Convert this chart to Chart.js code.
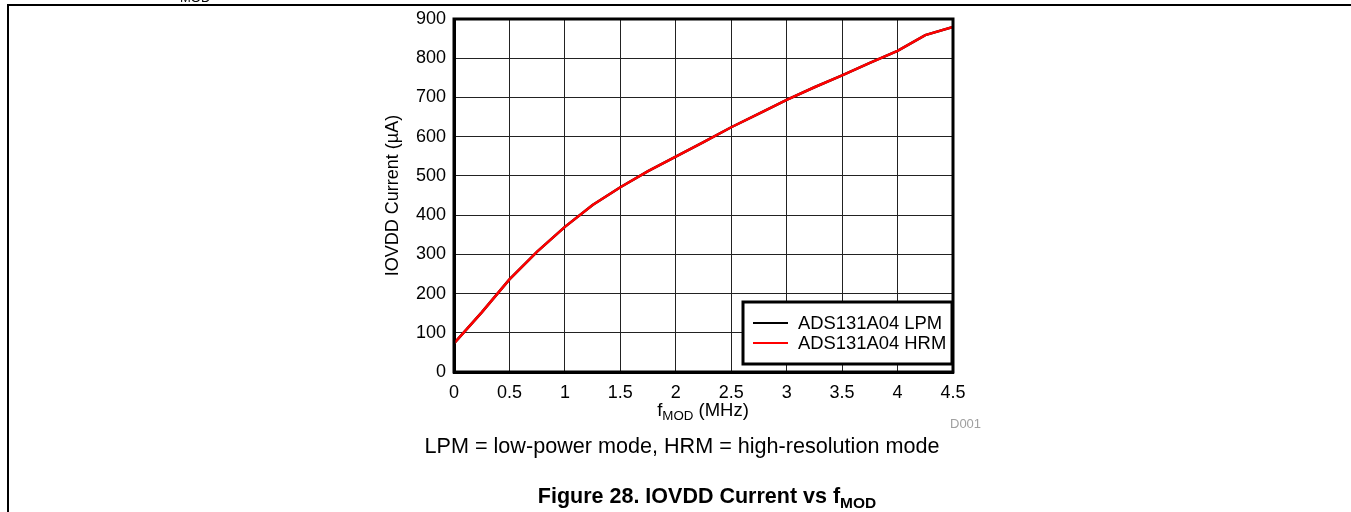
<!DOCTYPE html>
<html>
<head>
<meta charset="utf-8">
<script src="https://cdn.jsdelivr.net/npm/chart.js@4.4.1/dist/chart.umd.min.js"></script>
<style>
    body { margin: 0; background: #fff; font-family: "Liberation Sans", Arial, sans-serif; }
    #page { position: relative; width: 1351px; height: 512px; overflow: hidden; }
    #chart { position: absolute; left: 0; top: 0; }
    .frame-top { position: absolute; left: 8px; top: 4px; width: 1343px; height: 2px; background: #000; }
    .frame-left { position: absolute; left: 7px; top: 4px; width: 2px; height: 508px; background: #000; }
    .txt { position: absolute; white-space: nowrap; color: #000; }
    .txt sub { font-size: 0.72em; vertical-align: -0.3em; line-height: 0; }
    #prevSub { left: 180px; top: -10px; font-size: 13px; }
    #xTitle { left: 703px; top: 399px; font-size: 18.5px; transform: translateX(-50%); }
    #code { left: 950px; top: 416px; font-size: 13px; color: #a0a0a0; }
    #note { left: 682px; top: 433px; font-size: 21.6px; transform: translateX(-50%); }
    #caption { left: 707px; top: 484px; font-size: 21.5px; font-weight: bold; transform: translateX(-50%); }
</style>
</head>
<body>
<div id="page">
    <canvas id="chart" width="1351" height="512"></canvas>
    <div class="frame-top"></div>
    <div class="frame-left"></div>
    <div class="txt" id="prevSub">MOD</div>
    <div class="txt" id="xTitle">f<sub>MOD</sub> (MHz)</div>
    <div class="txt" id="code">D001</div>
    <div class="txt" id="note">LPM = low-power mode, HRM = high-resolution mode</div>
    <div class="txt" id="caption">Figure 28. IOVDD Current vs f<sub>MOD</sub></div>
</div>
<script>
// values (fMOD in MHz, current in uA)
const fmod = [0, 0.25, 0.5, 0.75, 1, 1.25, 1.5, 1.75, 2, 2.25, 2.5, 2.75, 3, 3.25, 3.5, 3.75, 4, 4.25, 4.5];
const lpmCurrent = [73, 152, 236, 307, 370, 426, 471, 512, 549, 586, 624, 659, 694, 726, 756, 788, 819, 859, 880];
const hrmCurrent = [73, 152, 236, 307, 370, 426, 471, 512, 549, 586, 624, 659, 694, 726, 756, 788, 819, 859, 880];
const seriesNames = ["ADS131A04 LPM", "ADS131A04 HRM"];
const seriesColors = ["#000000", "#ff0000"];

const FONT = "'Liberation Sans', Arial, sans-serif";

function toPoints(xs, ys) {
    return xs.map((x, i) => ({ x: x, y: ys[i] }));
}

// thick black box around the plot area
const plotFrame = {
    id: "plotFrame",
    afterDatasetsDraw(chart) {
        const { ctx, chartArea } = chart;
        ctx.save();
        ctx.strokeStyle = "#000";
        ctx.lineWidth = 3;
        ctx.strokeRect(chartArea.left, chartArea.top, chartArea.right - chartArea.left, chartArea.bottom - chartArea.top);
        ctx.restore();
    }
};

// boxed legend sitting in the lower right corner of the plot
const boxLegend = {
    id: "boxLegend",
    afterDraw(chart) {
        const { ctx, chartArea } = chart;
        const right = chartArea.right - 1;
        const left = right - 209;
        const bottom = chartArea.bottom - 8;
        const top = bottom - 62;
        ctx.save();
        ctx.fillStyle = "#fff";
        ctx.fillRect(left, top, right - left, bottom - top);
        ctx.strokeStyle = "#000";
        ctx.lineWidth = 3;
        ctx.strokeRect(left, top, right - left, bottom - top);
        ctx.font = "18.4px " + FONT;
        ctx.textBaseline = "middle";
        chart.data.datasets.forEach((ds, i) => {
            const y = top + 21 + i * 20;
            ctx.strokeStyle = ds.borderColor;
            ctx.lineWidth = 2;
            ctx.beginPath();
            ctx.moveTo(left + 10, y);
            ctx.lineTo(left + 45, y);
            ctx.stroke();
            ctx.fillStyle = "#000";
            ctx.fillText(ds.label, left + 55, y + 1);
        });
        ctx.restore();
    }
};

const chart = new Chart(document.getElementById("chart"), {
    type: "line",
    data: {
        datasets: [
            {
                label: seriesNames[0],
                data: toPoints(fmod, lpmCurrent),
                borderColor: seriesColors[0],
                borderWidth: 2.5,
                pointRadius: 0,
                tension: 0,
                order: 1
            },
            {
                label: seriesNames[1],
                data: toPoints(fmod, hrmCurrent),
                borderColor: seriesColors[1],
                borderWidth: 2.5,
                pointRadius: 0,
                tension: 0,
                order: 0
            }
        ]
    },
    options: {
        responsive: false,
        devicePixelRatio: 1,
        animation: false,
        layout: { padding: { left: 382, right: 398, top: 19, bottom: 110 } },
        plugins: {
            legend: { display: false },
            tooltip: { enabled: false }
        },
        scales: {
            x: {
                type: "linear",
                min: 0,
                max: 4.5,
                ticks: {
                    stepSize: 0.5,
                    color: "#000",
                    font: { family: FONT, size: 18 },
                    padding: 10,
                    maxRotation: 0,
                    callback: (v) => String(+v.toFixed(1))
                },
                grid: { color: "#222", lineWidth: 1, drawTicks: false },
                border: { color: "#000", width: 3 },
                afterFit(scale) { scale.height = 30; }
            },
            y: {
                min: 0,
                max: 900,
                ticks: { stepSize: 100, color: "#000", font: { family: FONT, size: 18 }, padding: 8 },
                grid: { color: "#222", lineWidth: 1, drawTicks: false },
                border: { color: "#000", width: 3 },
                title: {
                    display: true,
                    text: "IOVDD Current (\u00b5A)",
                    color: "#000",
                    font: { family: FONT, size: 18 },
                    padding: 0
                },
                afterFit(scale) { scale.width = 72; }
            }
        }
    },
    plugins: [plotFrame, boxLegend]
});
</script>
</body>
</html>
